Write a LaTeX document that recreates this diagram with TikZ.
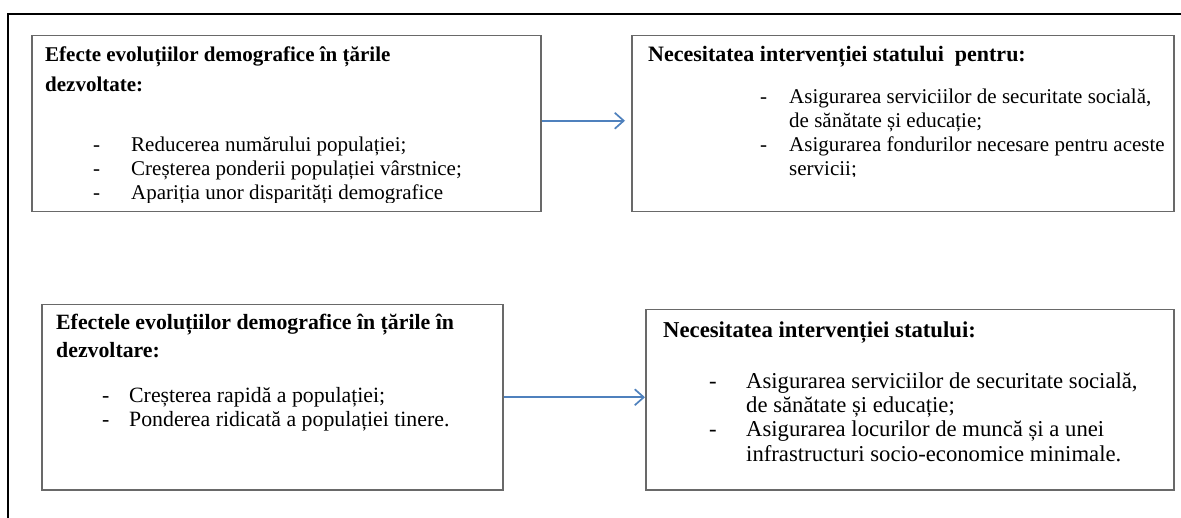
\documentclass[tikz,border=0pt]{standalone}
\usepackage{fontspec}
\setmainfont{Liberation Serif}
\usetikzlibrary{arrows.meta}
\definecolor{boxgray}{RGB}{105,105,105}
\definecolor{arrowblue}{RGB}{79,129,189}
\begin{document}
\begin{tikzpicture}[x=1pt,y=-1pt,
  box/.style={draw=boxgray, line width=1.5pt, anchor=north west, inner sep=0pt, fill=none},
  ln/.style={anchor=base west, inner sep=0pt, font=\fontsize{21}{24}\selectfont},
  hd/.style={anchor=base west, inner sep=0pt, font=\fontsize{21}{24}\selectfont\bfseries},
  lnc/.style={anchor=base west, inner sep=0pt, font=\fontsize{21.8}{26}\selectfont},
  hdc/.style={anchor=base west, inner sep=0pt, font=\fontsize{21.8}{26}\selectfont\bfseries},
  lnb/.style={anchor=base west, inner sep=0pt, font=\fontsize{22.7}{26}\selectfont},
  hdb/.style={anchor=base west, inner sep=0pt, font=\fontsize{22.7}{26}\selectfont\bfseries},
  conn/.style={draw=arrowblue, line width=1.7pt, -{Straight Barb[length=9pt,width=16pt,line width=1.7pt]}}
]
\useasboundingbox (0,0) rectangle (1181,518);
% outer frame (only top and left visible)
\draw[line width=2.8pt] (8,518) -- (8,14) -- (1181,14);

% boxes
\node[box, minimum width=509pt, minimum height=176pt] (b1) at (31,35) {};
\node[box, minimum width=542pt, minimum height=176pt] (b2) at (631,35) {};
\node[box, minimum width=461pt, minimum height=185pt] (b3) at (41,304) {};
\node[box, minimum width=528pt, minimum height=180pt] (b4) at (645,309) {};

% box 1 text
\begin{scope}
\clip (31,35) rectangle (540,203);
\node[hd] (t11) at (45,62) {Efecte evoluțiilor demografice în țările};
\node[hd] (t12) at (45,92) {dezvoltate:};
\node[ln] (d11) at (93,152) {-};
\node[ln] (i11) at (131,152) {Reducerea numărului populației;};
\node[ln] (d12) at (93,176) {-};
\node[ln] (i12) at (131,176) {Creșterea ponderii populației vârstnice;};
\node[ln] (d13) at (93,200) {-};
\node[ln] (i13) at (131,200) {Apariția unor disparități demografice};
\end{scope}

% box 2 text
\begin{scope}
\clip (631,35) rectangle (1173,177);
\node[hd, font=\fontsize{22}{24}\selectfont\bfseries] (t21) at (648,62) {Necesitatea intervenției statului\ \ pentru:};
\node[ln] (d21) at (760,104) {-};
\node[ln] (i21) at (789,104) {Asigurarea serviciilor de securitate socială,};
\node[ln] (i22) at (789,128) {de sănătate și educație;};
\node[ln] (d23) at (760,152) {-};
\node[ln] (i23) at (789,152) {Asigurarea fondurilor necesare pentru aceste};
\node[ln] (i24) at (789,176) {servicii;};
\end{scope}

% box 3 text
\node[hdc] (t31) at (56,330) {Efectele evoluțiilor demografice în țările în};
\node[hdc] (t32) at (56,358) {dezvoltare:};
\node[lnc] (d31) at (102,403) {-};
\node[lnc] (i31) at (129,403) {Creșterea rapidă a populației;};
\node[lnc] (d32) at (102,427) {-};
\node[lnc] (i32) at (129,427) {Ponderea ridicată a populației tinere.};

% box 4 text
\node[hdb] (t41) at (663,338) {Necesitatea intervenției statului:};
\node[lnb] (d41) at (709,389) {-};
\node[lnb] (i41) at (746,389) {Asigurarea serviciilor de securitate socială,};
\node[lnb] (i42) at (746,413) {de sănătate și educație;};
\node[lnb] (d43) at (709,437) {-};
\node[lnb] (i43) at (746,437) {Asigurarea locurilor de muncă și a unei};
\node[lnb] (i44) at (746,461) {infrastructuri socio-economice minimale.};

% connectors
\draw[conn, shorten >=6pt] ([yshift=3pt]b1.east) -- ([yshift=3pt]b2.west);
\draw[conn] (b3.east) -- (b3.east -| b4.west);
\end{tikzpicture}
\end{document}
